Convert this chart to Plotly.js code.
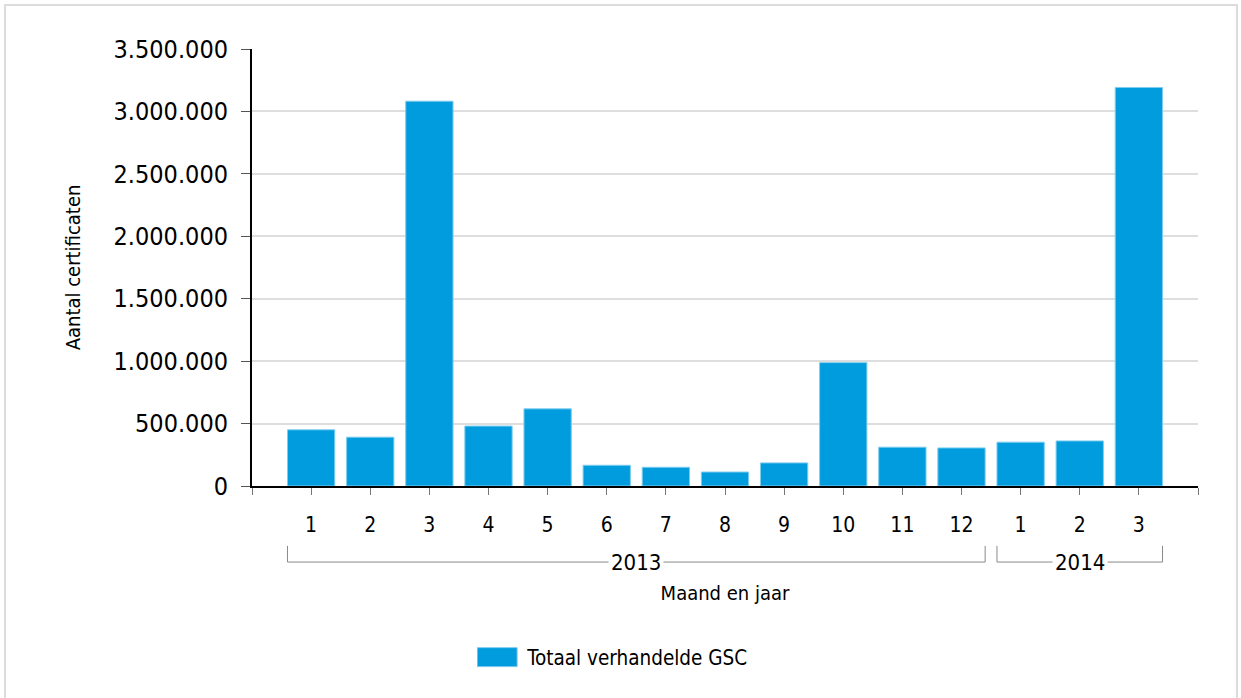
<!DOCTYPE html>
<html>
<head>
<meta charset="utf-8">
<script src="https://cdn.plot.ly/plotly-3.0.1.min.js"></script>
<style>
  html, body { margin: 0; padding: 0; background: #fff; }
  #wrap { position: relative; width: 1241px; height: 698px; overflow: hidden; }
  #chart { width: 1241px; height: 698px; }
  #frame { position: absolute; left: 4px; top: 4px; width: 1230px; height: 720px;
           border: 2px solid #dcdcdc; pointer-events: none; }
</style>
</head>
<body>
<div id="wrap">
  <div id="chart"></div>
  <div id="frame"></div>
</div>
<script>
// ---- data ----
const months = ["1","2","3","4","5","6","7","8","9","10","11","12","1","2","3"];
const years  = ["2013","2013","2013","2013","2013","2013","2013","2013","2013","2013","2013","2013","2014","2014","2014"];
const values = [450000, 391000, 3082000, 480000, 618000, 166000, 150000, 112000, 185000, 988000, 311000, 305000, 351000, 361000, 3192000];
const yTicks = [0, 500000, 1000000, 1500000, 2000000, 2500000, 3000000, 3500000];
const seriesName = "Totaal verhandelde GSC";

const FONT = "'DejaVu Sans Condensed', 'DejaVu Sans', sans-serif";
const idx = months.map((m, i) => i);

// year groups
const groups = [];
years.forEach((y, i) => {
  const g = groups[groups.length - 1];
  if (g && g.year === y) g.end = i; else groups.push({year: y, start: i, end: i});
});

const halfBar = 0.4;
const yLine = -0.174, yTop = -0.137;
const shapes = [], annotations = [];
groups.forEach(g => {
  const a = g.start - halfBar, b = g.end + halfBar;
  shapes.push({
    type: 'path', xref: 'x', yref: 'paper',
    path: `M${a},${yTop} L${a},${yLine} L${b},${yLine} L${b},${yTop}`,
    line: {color: '#8a8a8a', width: 1}
  });
  annotations.push({
    xref: 'x', yref: 'paper', x: (a + b) / 2, y: yLine, text: g.year,
    showarrow: false, xanchor: 'center', yanchor: 'middle',
    bgcolor: '#ffffff', borderpad: 2,
    font: {family: FONT, size: 22, color: '#000'}
  });
});

const trace = {
  type: 'bar', x: idx, y: values, name: seriesName, width: 0.8,
  marker: {color: '#009cde', line: {color: '#7fcdee', width: 1}},
  hoverinfo: 'y'
};

const layout = {
  width: 1241, height: 698,
  margin: {l: 252, r: 43, t: 49, b: 212},
  paper_bgcolor: '#fff', plot_bgcolor: '#fff',
  separators: ',.',
  font: {family: FONT, color: '#000'},
  showlegend: true,
  legend: {orientation: 'h', x: 0.238, xanchor: 'left', y: -0.392, yanchor: 'middle',
           font: {family: FONT, size: 20.5, color: '#000'}, itemwidth: 40},
  xaxis: {
    range: [-1, months.length],
    tickmode: 'array',
    tickvals: [-1].concat(idx, [months.length]),
    ticktext: [''].concat(months, ['']),
    ticks: 'outside', ticklen: 7, tickcolor: '#777', tickwidth: 1,
    ticklabelstandoff: 12,
    tickfont: {family: FONT, size: 21, color: '#000'},
    showline: true, linecolor: '#000', linewidth: 2,
    showgrid: false, zeroline: false, fixedrange: true,
    title: {text: 'Maand en jaar', font: {family: FONT, size: 20, color: '#000'}, standoff: 50}
  },
  yaxis: {
    range: [0, 3500000],
    tickmode: 'array', tickvals: yTicks, tickformat: ',d',
    ticks: 'outside', ticklen: 9, tickcolor: '#555', tickwidth: 1,
    ticklabelstandoff: 8,
    tickfont: {family: FONT, size: 25, color: '#000'},
    showline: true, linecolor: '#000', linewidth: 2,
    showgrid: true, gridcolor: '#dedede', gridwidth: 2,
    zeroline: false, fixedrange: true,
    title: {text: 'Aantal certificaten', font: {family: FONT, size: 20, color: '#000'}, standoff: 28}
  },
  shapes: shapes,
  annotations: annotations
};

Plotly.newPlot('chart', [trace], layout, {displayModeBar: false, staticPlot: true}).then(() => {
  document.querySelectorAll('#chart .legendpoints path').forEach(p => {
    p.setAttribute('d', 'M-25,-9.5H15V9.5H-25Z');
  });
});
</script>
</body>
</html>
